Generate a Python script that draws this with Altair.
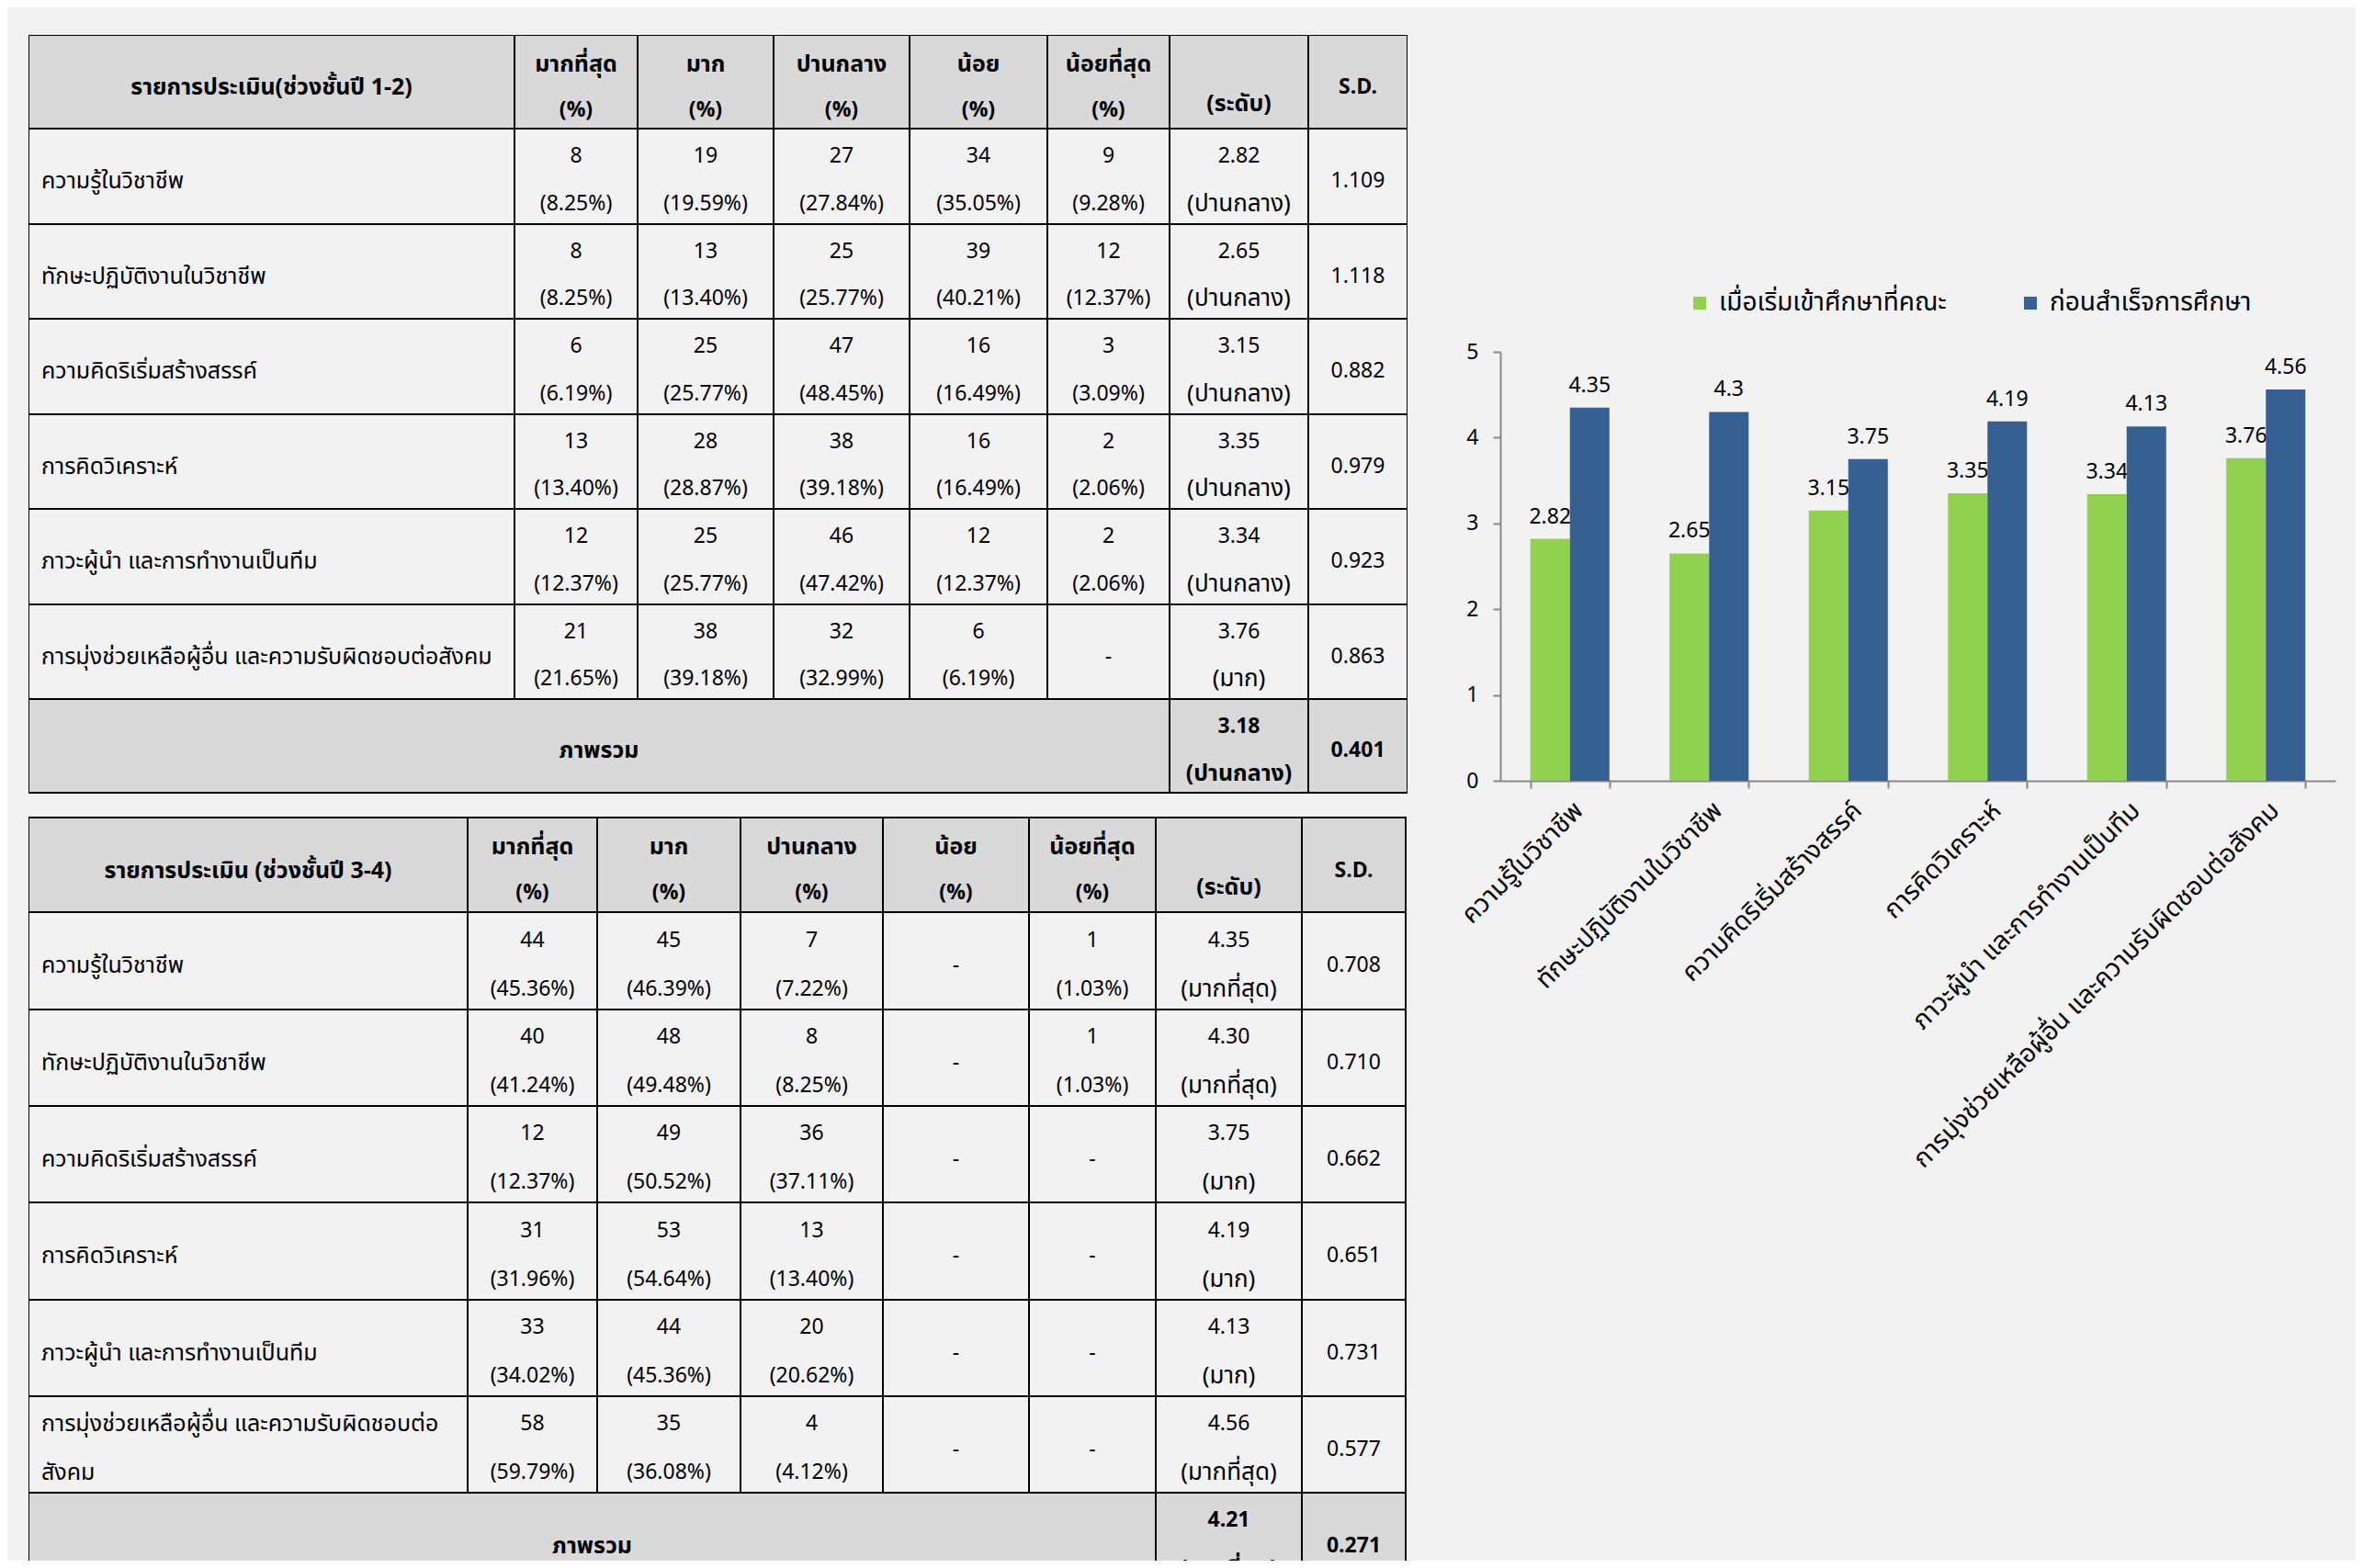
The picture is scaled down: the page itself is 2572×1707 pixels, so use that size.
import altair as alt
import pandas as pd

FONT = "Noto Sans Thai, Noto Sans, DejaVu Sans, sans-serif"
HEAD_FILL = "#d9d9d9"
CELL_FILL = "#f2f2f2"
GREEN = "#92d050"
BLUE = "#366092"

# ---------------- data ----------------
level_names = ["มากที่สุด", "มาก", "ปานกลาง", "น้อย", "น้อยที่สุด"]

t1_head = "รายการประเมิน(ช่วงชั้นปี 1-2)"
t1_criteria = [
    "ความรู้ในวิชาชีพ",
    "ทักษะปฏิบัติงานในวิชาชีพ",
    "ความคิดริเริ่มสร้างสรรค์",
    "การคิดวิเคราะห์",
    "ภาวะผู้นำ  และการทำงานเป็นทีม",
    "การมุ่งช่วยเหลือผู้อื่น และความรับผิดชอบต่อสังคม",
]
t1_counts = [
    [8, 19, 27, 34, 9],
    [8, 13, 25, 39, 12],
    [6, 25, 47, 16, 3],
    [13, 28, 38, 16, 2],
    [12, 25, 46, 12, 2],
    [21, 38, 32, 6, None],
]
t1_pcts = [
    [8.25, 19.59, 27.84, 35.05, 9.28],
    [8.25, 13.40, 25.77, 40.21, 12.37],
    [6.19, 25.77, 48.45, 16.49, 3.09],
    [13.40, 28.87, 39.18, 16.49, 2.06],
    [12.37, 25.77, 47.42, 12.37, 2.06],
    [21.65, 39.18, 32.99, 6.19, None],
]
t1_means = [2.82, 2.65, 3.15, 3.35, 3.34, 3.76]
t1_levels = ["ปานกลาง", "ปานกลาง", "ปานกลาง", "ปานกลาง", "ปานกลาง", "มาก"]
t1_sd = [1.109, 1.118, 0.882, 0.979, 0.923, 0.863]
t1_total = [3.18, "ปานกลาง", 0.401]

t2_head = "รายการประเมิน (ช่วงชั้นปี 3-4)"
t2_criteria = [
    "ความรู้ในวิชาชีพ",
    "ทักษะปฏิบัติงานในวิชาชีพ",
    "ความคิดริเริ่มสร้างสรรค์",
    "การคิดวิเคราะห์",
    "ภาวะผู้นำ  และการทำงานเป็นทีม",
    "การมุ่งช่วยเหลือผู้อื่น และความรับผิดชอบต่อ\nสังคม",
]
t2_counts = [
    [44, 45, 7, None, 1],
    [40, 48, 8, None, 1],
    [12, 49, 36, None, None],
    [31, 53, 13, None, None],
    [33, 44, 20, None, None],
    [58, 35, 4, None, None],
]
t2_pcts = [
    [45.36, 46.39, 7.22, None, 1.03],
    [41.24, 49.48, 8.25, None, 1.03],
    [12.37, 50.52, 37.11, None, None],
    [31.96, 54.64, 13.40, None, None],
    [34.02, 45.36, 20.62, None, None],
    [59.79, 36.08, 4.12, None, None],
]
t2_means = [4.35, 4.30, 3.75, 4.19, 4.13, 4.56]
t2_levels = ["มากที่สุด", "มากที่สุด", "มาก", "มาก", "มาก", "มากที่สุด"]
t2_sd = [0.708, 0.710, 0.662, 0.651, 0.731, 0.577]
t2_total = [4.21, "มากที่สุด", 0.271]

bar_skills = [
    "ความรู้ในวิชาชีพ",
    "ทักษะปฏิบัติงานในวิชาชีพ",
    "ความคิดริเริ่มสร้างสรรค์",
    "การคิดวิเคราะห์",
    "ภาวะผู้นำ  และการทำงานเป็นทีม",
    "การมุ่งช่วยเหลือผู้อื่น และความรับผิดชอบต่อสังคม",
]
series_names = ["เมื่อเริ่มเข้าศึกษาที่คณะ", "ก่อนสำเร็จการศึกษา"]
bar_start = [2.82, 2.65, 3.15, 3.35, 3.34, 3.76]
bar_end = [4.35, 4.3, 3.75, 4.19, 4.13, 4.56]

# ---------------- layout (pixels) ----------------
T1_COLW = [529, 134, 148, 148, 150, 133, 151, 108]
T1_ROWH = [102, 104, 103, 104, 103, 104, 103, 102]
T2_COLW = [478, 141, 156, 155, 159, 138, 159, 113]
T2_ROWH = [103, 106, 105, 105, 106, 105, 105, 105]
GAP = 27
VIEW_W = 1501
VIEW_H = 1661

rects, t_num, t_thai, t_left, t_bold_thai, t_bold_num = [], [], [], [], [], []


def add_table(y0, head, crit, counts, pcts, means, levels, sds, total, colw, rowh):
    ex = [0]
    for w in colw:
        ex.append(ex[-1] + w)
    ey = [y0]
    for h in rowh:
        ey.append(ey[-1] + h)

    def cy(r, f):
        return ey[r] + f * (ey[r + 1] - ey[r])

    def cx(c):
        return (ex[c] + ex[c + 1]) / 2

    for c in range(8):
        rects.append(dict(x=ex[c], x2=ex[c + 1], y=ey[0], y2=ey[1], fill=HEAD_FILL))
    t_bold_thai.append(dict(x=cx(0), y=cy(0, 0.56), t=head))
    for i, name in enumerate(level_names):
        t_bold_thai.append(dict(x=cx(i + 1), y=cy(0, 0.31), t=name))
        t_bold_num.append(dict(x=cx(i + 1), y=cy(0, 0.80), t="(%)"))
    t_bold_thai.append(dict(x=cx(6), y=cy(0, 0.74), t="(ระดับ)"))
    t_bold_num.append(dict(x=cx(7), y=cy(0, 0.56), t="S.D."))

    for r in range(6):
        R = r + 1
        for c in range(8):
            rects.append(dict(x=ex[c], x2=ex[c + 1], y=ey[R], y2=ey[R + 1], fill=CELL_FILL))
        parts = crit[r].split("\n")
        if len(parts) == 1:
            t_left.append(dict(x=ex[0] + 14, y=cy(R, 0.55), t=parts[0]))
        else:
            t_left.append(dict(x=ex[0] + 14, y=cy(R, 0.29), t=parts[0]))
            t_left.append(dict(x=ex[0] + 14, y=cy(R, 0.79), t=parts[1]))
        for k in range(5):
            if counts[r][k] is None:
                t_num.append(dict(x=cx(k + 1), y=cy(R, 0.55), t="-"))
            else:
                t_num.append(dict(x=cx(k + 1), y=cy(R, 0.29), t=str(counts[r][k])))
                t_num.append(dict(x=cx(k + 1), y=cy(R, 0.79), t=f"({pcts[r][k]:.2f}%)"))
        t_num.append(dict(x=cx(6), y=cy(R, 0.29), t=f"{means[r]:.2f}"))
        t_thai.append(dict(x=cx(6), y=cy(R, 0.79), t=f"({levels[r]})"))
        t_num.append(dict(x=cx(7), y=cy(R, 0.55), t=f"{sds[r]:.3f}"))

    R = 7
    rects.append(dict(x=ex[0], x2=ex[6], y=ey[R], y2=ey[R + 1], fill=HEAD_FILL))
    rects.append(dict(x=ex[6], x2=ex[7], y=ey[R], y2=ey[R + 1], fill=HEAD_FILL))
    rects.append(dict(x=ex[7], x2=ex[8], y=ey[R], y2=ey[R + 1], fill=HEAD_FILL))
    t_bold_thai.append(dict(x=(ex[0] + ex[6]) / 2, y=cy(R, 0.55), t="ภาพรวม"))
    t_bold_num.append(dict(x=cx(6), y=cy(R, 0.29), t=f"{total[0]:.2f}"))
    t_bold_thai.append(dict(x=cx(6), y=cy(R, 0.79), t=f"({total[1]})"))
    t_bold_num.append(dict(x=cx(7), y=cy(R, 0.55), t=f"{total[2]:.3f}"))


add_table(0, t1_head, t1_criteria, t1_counts, t1_pcts, t1_means, t1_levels,
          t1_sd, t1_total, T1_COLW, T1_ROWH)
add_table(sum(T1_ROWH) + GAP, t2_head, t2_criteria, t2_counts, t2_pcts, t2_means,
          t2_levels, t2_sd, t2_total, T2_COLW, T2_ROWH)

xs = alt.Scale(domain=[0, VIEW_W], nice=False, zero=False)
ys = alt.Scale(domain=[0, VIEW_H], nice=False, zero=False, reverse=True)
TX = alt.X("x:Q", scale=xs, axis=None)
TY = alt.Y("y:Q", scale=ys, axis=None)

cells = alt.Chart(pd.DataFrame(rects)).mark_rect(
    stroke="black", strokeWidth=2, clip=True
).encode(x=TX, x2="x2:Q", y=TY, y2="y2:Q", color=alt.Color("fill:N", scale=None))


def txt(rows, align, weight, size):
    return alt.Chart(pd.DataFrame(rows)).mark_text(
        font=FONT, fontSize=size, align=align, baseline="middle",
        fontWeight=weight, color="black", clip=True
    ).encode(x=TX, y=TY, text="t:N")


tables = alt.layer(
    cells,
    txt(t_num, "center", "normal", 23),
    txt(t_thai, "center", "normal", 26),
    txt(t_left, "left", "normal", 25),
    txt(t_bold_thai, "center", "bold", 25),
    txt(t_bold_num, "center", "bold", 23),
).properties(width=VIEW_W, height=VIEW_H)

# ---------------- bar chart ----------------
bar_df = pd.DataFrame({
    "skill": bar_skills + bar_skills,
    "series": [series_names[0]] * len(bar_skills) + [series_names[1]] * len(bar_skills),
    "value": bar_start + bar_end,
})

AX_COLOR = "#878787"
bx = alt.X(
    "skill:N", sort=bar_skills,
    scale=alt.Scale(paddingInner=0.432, paddingOuter=0.216),
    axis=alt.Axis(title=None, labelAngle=-45, labelFont=FONT, labelFontSize=28,
                  labelColor="black", labelLimit=0, labelPadding=10,
                  domainColor=AX_COLOR, domainWidth=2, tickColor=AX_COLOR,
                  tickWidth=2, tickSize=8, tickBand="extent"),
)
bxo = alt.XOffset("series:N", sort=series_names)
by = alt.Y(
    "value:Q",
    scale=alt.Scale(domain=[0, 5], range=[812, 345], nice=False),
    axis=alt.Axis(title=None, values=[0, 1, 2, 3, 4, 5], grid=False, labelFont=FONT,
                  labelFontSize=23, labelColor="black", labelPadding=16,
                  domainColor=AX_COLOR, domainWidth=2, tickColor=AX_COLOR,
                  tickWidth=2, tickSize=8),
)

labels = alt.Chart(bar_df).mark_text(
    font=FONT, fontSize=23, baseline="alphabetic", align="center", dy=-17, color="black"
).encode(x=bx, xOffset=bxo, y=by, text=alt.Text("value:Q"))

bars = alt.Chart(bar_df).mark_bar().encode(
    x=bx, xOffset=bxo, y=by,
    color=alt.Color(
        "series:N", sort=series_names,
        scale=alt.Scale(domain=series_names, range=[GREEN, BLUE]),
        legend=alt.Legend(title=None, orient="none", legendX=1805, legendY=278,
                          direction="horizontal", symbolType="square", symbolSize=196,
                          symbolStrokeWidth=0, labelFont=FONT, labelFontSize=28,
                          labelColor="black", labelOffset=7, columnPadding=77,
                          labelLimit=0),
    ),
)

bar_chart = alt.layer(labels, bars).properties(width=909, height=812)

chart = alt.hconcat(
    tables,
    bar_chart,
    spacing=101,
    bounds="flush",
).properties(
    padding={"left": 23, "top": 30, "right": 22, "bottom": 0}
).configure(
    background="#f2f2f2"
).configure_view(stroke=None)

chart.save("out.html", embed_options={"renderer": "svg", "actions": False})
